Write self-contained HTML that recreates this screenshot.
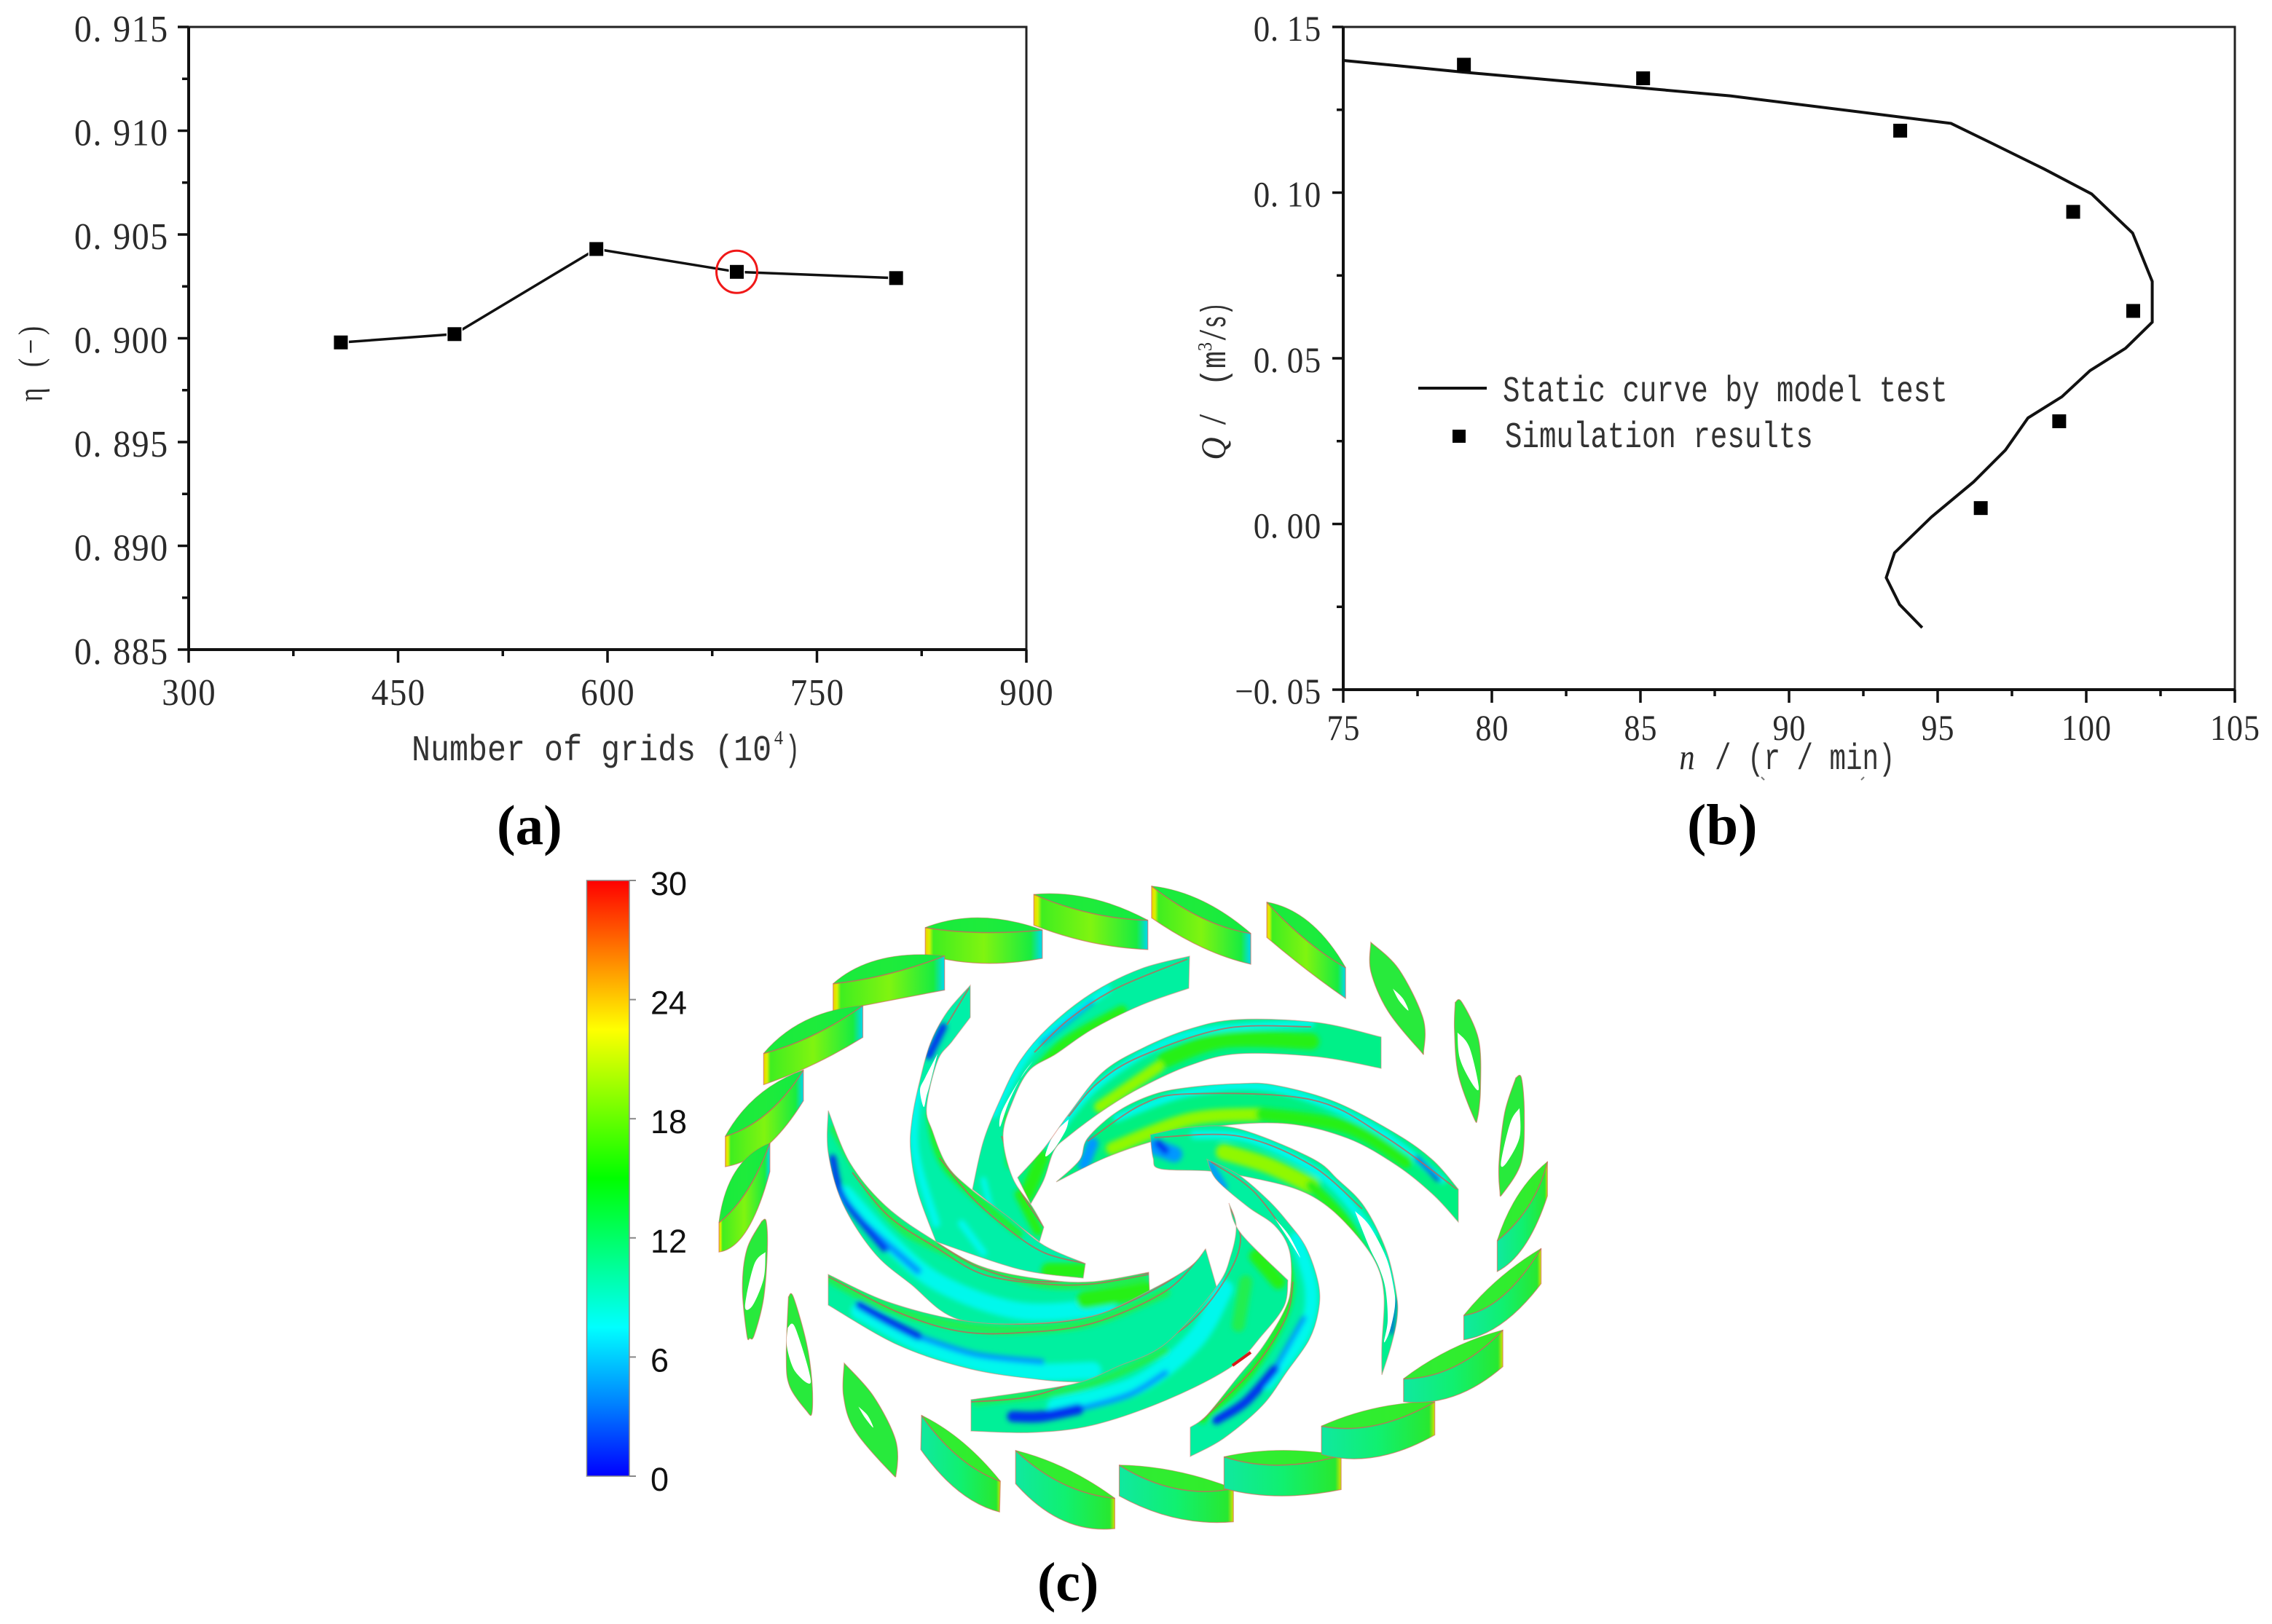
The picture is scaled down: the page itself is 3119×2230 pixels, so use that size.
<!DOCTYPE html>
<html>
<head>
<meta charset="utf-8">
<title>Grid independence, static curve and blade pressure</title>
<style>
html,body{margin:0;padding:0;background:#fff;}
svg{display:block;}
text{font-family:"Liberation Serif","Noto Serif CJK SC",serif;fill:#2a2a2a;}
.panel-label{font-weight:bold;fill:#000;}
.cb{font-family:"Liberation Sans",sans-serif;fill:#111;}
</style>
</head>
<body>
<svg id="figure" xmlns="http://www.w3.org/2000/svg" width="3119" height="2230" viewBox="0 0 3119 2230">
<defs>
<linearGradient id="cbGrad" x1="0" y1="1" x2="0" y2="0">
<stop offset="0" stop-color="#0000ff"/><stop offset="0.12" stop-color="#0080ff"/><stop offset="0.25" stop-color="#00ffff"/>
<stop offset="0.375" stop-color="#00ff80"/><stop offset="0.5" stop-color="#00ff00"/><stop offset="0.625" stop-color="#80ff00"/>
<stop offset="0.75" stop-color="#ffff00"/><stop offset="0.875" stop-color="#ff8000"/><stop offset="1" stop-color="#ff0000"/>
</linearGradient>
<linearGradient id="vaneL"><stop offset="0" stop-color="#f0d000"/><stop offset="0.035" stop-color="#d8f000"/><stop offset="0.07" stop-color="#40ee20"/><stop offset="0.5" stop-color="#80f410"/><stop offset="0.9" stop-color="#18ec40"/><stop offset="1" stop-color="#00d8f0"/></linearGradient>
<linearGradient id="vaneR"><stop offset="0" stop-color="#10e8a0"/><stop offset="0.5" stop-color="#10f070"/><stop offset="0.95" stop-color="#28e830"/><stop offset="1" stop-color="#d8e000"/></linearGradient>
<filter id="blur1" x="-40%" y="-40%" width="180%" height="180%"><feGaussianBlur stdDeviation="3.5"/></filter>
</defs>

<!-- Panel a frame -->
<g id="panelA">
<rect x="259" y="37" width="1150" height="855" fill="none" stroke="#222" stroke-width="3"/>
<line x1="259" y1="892" x2="1409" y2="892" stroke="#111" stroke-width="4"/>
<line x1="259" y1="37" x2="259" y2="892" stroke="#111" stroke-width="4"/>
<g id="titlesA"></g>
<g id="ticksA"></g>
<g id="marksA"></g>
</g>

<!-- Panel b frame -->
<g id="panelB">
<rect x="1844" y="37" width="1224" height="910" fill="none" stroke="#222" stroke-width="3"/>
<line x1="1844" y1="947" x2="3068" y2="947" stroke="#111" stroke-width="4"/>
<line x1="1844" y1="37" x2="1844" y2="947" stroke="#111" stroke-width="4"/>
<path d="M2418 1067l4 4M2555 1071l4-4" stroke="#777" stroke-width="2" fill="none"/>
<g id="titlesB"></g>
<g id="ticksB"></g>
<g id="marksB"></g>
<g id="legendB">
<line x1="1947" y1="533" x2="2041" y2="533" stroke="#111" stroke-width="4"/>
<rect x="1994" y="590" width="18" height="18" fill="#000"/>
</g>
</g>

<text class="panel-label" x="682" y="1159" font-size="77">(a)</text>
<text class="panel-label" x="2316" y="1159" font-size="79">(b)</text>
<text class="panel-label" x="1424" y="2198" font-size="76">(c)</text>

<!-- Panel c -->
<g>
<g>
<rect x="805.5" y="1209" width="58.5" height="818" fill="url(#cbGrad)" stroke="#888" stroke-width="1.5"/>
<g id="cbTicks"></g>
</g>
<g id="blades"></g>
<g id="vanes"></g>
</g>
</svg>

<script>
// ---------- Panel a data ----------
const gridCounts = [409, 490.4, 592, 692.6, 806.7];
const etaValues = [0.8998, 0.9002, 0.9043, 0.9032, 0.9029];
const gridTicks = [300, 450, 600, 750, 900];
const etaTicks = [0.885, 0.890, 0.895, 0.900, 0.905, 0.910, 0.915];
const highlightedGrid = 692.6;
const highlightedEta = 0.9032;

// ---------- Panel b data ----------
const curveSpeed = [75, 78.99, 88.02, 95.45, 96.8, 98.59, 100.18, 101.56, 102.22, 102.22, 101.32, 100.13, 99.18, 98.04, 97.28, 96.21, 94.79, 93.55, 93.27, 93.72, 94.48];
const curveFlow = [0.1399, 0.1364, 0.1292, 0.1209, 0.115, 0.1071, 0.0996, 0.0878, 0.0732, 0.0609, 0.053, 0.0463, 0.0384, 0.032, 0.0223, 0.0127, 0.0021, -0.0087, -0.0162, -0.0243, -0.0313];
const simSpeed = [79.06, 85.09, 93.74, 99.56, 101.58, 99.09, 96.45];
const simFlow = [0.1386, 0.1345, 0.1187, 0.0942, 0.0643, 0.031, 0.0048];
const speedTicks = [75, 80, 85, 90, 95, 100, 105];
const flowTicks = [-0.05, 0, 0.05, 0.10, 0.15];

// ---------- Colorbar data ----------
const colorbarTicks = [0, 6, 12, 18, 24, 30];

const NS = 'http://www.w3.org/2000/svg';
function mk(parent, tag, attrs) {
  const el = document.createElementNS(NS, tag);
  for (const k in attrs) el.setAttribute(k, attrs[k]);
  parent.appendChild(el);
  return el;
}

// Evenly pitched, horizontally condensed text (opts: size, sx, rot, italic, mono, narrow)
function monoText(g, x, y, str, adv, name, opts) {
  const o = opts || {};
  const size = o.size || 50;
  const sx = o.mono ? adv / (size * 0.6) : (o.sx || 0.76);
  const rot = o.rot ? ' rotate(-90)' : '';
  let cursor = 0;
  const xs = Array.from(str).map(c => {
    const w = (o.narrow && (c === '.' || c === ' ')) ? o.narrow : adv;
    const centre = cursor + w / 2;
    cursor += w;
    return (centre / sx).toFixed(1);
  }).join(' ');
  const el = mk(g, 'text', {
    transform: 'translate(' + x + ',' + y + ')' + rot + ' scale(' + sx.toFixed(3) + ',1)',
    x: xs, y: 0, 'font-size': size, 'text-anchor': 'middle', 'xml:space': 'preserve'
  });
  el.style.whiteSpace = 'pre';
  if (o.mono) {
    el.style.fontFamily = '"Liberation Mono", monospace';
    el.style.fill = '#333';
  }
  if (o.italic) el.setAttribute('font-style', 'italic');
  el.textContent = str;
  
  
  return el;
}
function textWidth(str, adv, narrow) {
  return Array.from(str).reduce((s, c) => s + ((c === '.' || c === ' ') ? narrow : adv), 0);
}

// axis functions
const axA = {x: v => 259 + (v - 300) / 600 * 1150, y: v => 892 - (v - 0.885) / 0.03 * 855};
const axB = {x: v => 1844 + (v - 75) / 30 * 1224, y: v => 947 - (v + 0.05) / 0.2 * 910};

function tickLine(g, x1, y1, x2, y2, name) {
  const el = mk(g, 'line', {x1, y1, x2, y2, stroke: '#111', 'stroke-width': 3.5});
  
  
}
function fmtSpaced(v, d) {
  const s = Math.abs(v).toFixed(d).replace('.', '. ');
  return (v < 0 ? '\u2212' : '') + s;
}

// Titles and legend text
const titlesA = document.getElementById('titlesA');
monoText(titlesA, 565, 1044, 'Number of grids (10', 26, 'x-axis-title-a', {mono: true});
monoText(titlesA, 1062, 1022, '4', 14, 'x-axis-title-a-exponent', {size: 27, sx: 0.9});
monoText(titlesA, 1078, 1044, ')', 20, 'x-axis-title-a-close', {mono: true});
monoText(titlesA, 58, 553, '\u03b7 (\u2212)', 22, 'y-axis-title-a', {rot: true, size: 48});

const titlesB = document.getElementById('titlesB');
monoText(titlesB, 2304, 1056, 'n', 24, 'x-axis-title-b-n', {italic: true, sx: 0.85});
monoText(titlesB, 2354, 1056, '/ (r / min)', 22.5, 'x-axis-title-b-unit', {mono: true});
monoText(titlesB, 1682, 629, 'Q', 26, 'y-axis-title-b-q', {rot: true, italic: true, size: 48, sx: 0.9});
monoText(titlesB, 1682, 585, '/', 18, 'y-axis-title-b-slash', {rot: true, size: 48, mono: true});
monoText(titlesB, 1682, 530, '(m', 24, 'y-axis-title-b-open', {rot: true, size: 48, mono: true});
monoText(titlesB, 1663, 483, '3', 14, 'y-axis-title-b-exponent', {rot: true, size: 27, sx: 0.9});
monoText(titlesB, 1682, 469, '/s)', 18, 'y-axis-title-b-close', {rot: true, size: 48, mono: true});

const legendB = document.getElementById('legendB');
monoText(legendB, 2063, 551, 'Static curve by model test', 23.5, 'legend-label-static-curve', {mono: true});
monoText(legendB, 2066, 614, 'Simulation results', 23.5, 'legend-label-simulation', {mono: true});

// Panel a ticks
const ticksA = document.getElementById('ticksA');
gridTicks.forEach((v, i) => {
  const x = axA.x(v);
  tickLine(ticksA, x, 892, x, 910, 'x-tick-a');
  monoText(ticksA, x - 37.5, 968, String(v), 25, 'x-tick-label-a', {sx: 0.9, size: 52});
  if (i < gridTicks.length - 1) {
    const xm = axA.x((v + gridTicks[i + 1]) / 2);
    tickLine(ticksA, xm, 892, xm, 901, 'x-minor-tick-a');
  }
});
etaTicks.forEach((v, i) => {
  const y = axA.y(v);
  tickLine(ticksA, 244, y, 259, y, 'y-tick-a');
  const s = fmtSpaced(v, 3);
  monoText(ticksA, 231 - textWidth(s, 25.5, 14), y + 20, s, 25.5, 'y-tick-label-a', {sx: 0.92, size: 52, narrow: 14});
  if (i < etaTicks.length - 1) {
    const ym = axA.y((v + etaTicks[i + 1]) / 2);
    tickLine(ticksA, 250, ym, 259, ym, 'y-minor-tick-a');
  }
});

// Panel a series
const marksA = document.getElementById('marksA');
const lineA = mk(marksA, 'polyline', {
  points: gridCounts.map((v, i) => axA.x(v) + ',' + axA.y(etaValues[i])).join(' '),
  fill: 'none', stroke: '#111', 'stroke-width': 3.5
});


gridCounts.forEach((v, i) => {
  const m = mk(marksA, 'rect', {
    x: axA.x(v) - 9.5, y: axA.y(etaValues[i]) - 9.5, width: 19, height: 19,
    fill: '#000', stroke: '#fff', 'stroke-width': 3, 'paint-order': 'stroke'
  });
  
  
});
const ring = mk(marksA, 'ellipse', {
  cx: axA.x(highlightedGrid), cy: axA.y(highlightedEta), rx: 28, ry: 29,
  fill: 'none', stroke: '#f01818', 'stroke-width': 3
});



// Panel b ticks
const ticksB = document.getElementById('ticksB');
speedTicks.forEach((v, i) => {
  const x = axB.x(v);
  tickLine(ticksB, x, 947, x, 965, 'x-tick-b');
  const s = String(v);
  monoText(ticksB, x - s.length * 11.5, 1016, s, 23, 'x-tick-label-b', {sx: 0.88, size: 50});
  if (i < speedTicks.length - 1) {
    const xm = axB.x((v + speedTicks[i + 1]) / 2);
    tickLine(ticksB, xm, 947, xm, 956, 'x-minor-tick-b');
  }
});
flowTicks.forEach((v, i) => {
  const y = axB.y(v);
  tickLine(ticksB, 1829, y, 1844, y, 'y-tick-b');
  const s = fmtSpaced(v, 2);
  monoText(ticksB, 1814 - textWidth(s, 24, 11), y + 19, s, 24, 'y-tick-label-b', {sx: 0.9, size: 50, narrow: 11});
  if (i < flowTicks.length - 1) {
    const ym = axB.y((v + flowTicks[i + 1]) / 2);
    tickLine(ticksB, 1835, ym, 1844, ym, 'y-minor-tick-b');
  }
});

// Panel b series
const marksB = document.getElementById('marksB');
const curveB = mk(marksB, 'polyline', {
  points: curveSpeed.map((v, i) => axB.x(v) + ',' + axB.y(curveFlow[i])).join(' '),
  fill: 'none', stroke: '#111', 'stroke-width': 4
});


simSpeed.forEach((v, i) => {
  const m = mk(marksB, 'rect', {x: axB.x(v) - 9.5, y: axB.y(simFlow[i]) - 9.5, width: 19, height: 19, fill: '#000'});
  
  
});

// Colorbar ticks
const cbg = document.getElementById('cbTicks');
colorbarTicks.forEach(v => {
  const y = 2027 - v / 30 * 818;
  const t = mk(cbg, 'line', {x1: 864, y1: y, x2: 873, y2: y, stroke: '#888', 'stroke-width': 2});
  
  
  const l = mk(cbg, 'text', {x: 893, y: y + 20, 'font-size': 45, class: 'cb'});
  l.textContent = String(v);
  
  
});

// ---------- Panel c picture (traced shapes in page pixels) ----------
const P = p => p[0].toFixed(1) + ' ' + p[1].toFixed(1);
const T = p => [760 + p[0] * 0.5102, 1180 + p[1] * 0.6698];
function smooth(pts) {
  let d = '';
  for (let i = 0; i < pts.length - 1; i++) {
    const p0 = pts[i - 1] || pts[i], p1 = pts[i], p2 = pts[i + 1], p3 = pts[i + 2] || p2;
    const c1 = [p1[0] + (p2[0] - p0[0]) / 6, p1[1] + (p2[1] - p0[1]) / 6];
    const c2 = [p2[0] - (p3[0] - p1[0]) / 6, p2[1] - (p3[1] - p1[1]) / 6];
    d += ' C' + P(c1) + ' ' + P(c2) + ' ' + P(p2);
  }
  return d;
}
const openPath = pts => 'M' + P(pts[0]) + smooth(pts);
const outlinePath = segs => 'M' + P(segs[0][0]) + segs.map(s => smooth(s)).join(' L' + 'X').replace(/ LX/g, '') + ' Z';

const CY = '#00f8ec', BL = '#0030f0', LB = '#0098ff', GR = '#28f018', YG = '#90f800', SG = '#20ee50';
const bladeShapes = [
 {n:'blade-g', base:'#00f088',
  segs:[[[1896,1424],[1808,1404],[1700,1400],[1633,1413],[1567,1440],[1513,1473],[1467,1530],[1433,1577],[1397,1617]],[[1397,1617],[1415,1653]],[[1415,1653],[1433,1620],[1447,1580],[1467,1560],[1517,1523],[1567,1493],[1633,1463],[1700,1447],[1808,1451],[1896,1467]],[[1896,1467],[1896,1424]]],
  bands:[[CY,10,[[1800,1405],[1633,1420],[1513,1485],[1440,1570]]],[GR,22,[[1800,1430],[1680,1428],[1600,1455]]],[YG,16,[[1590,1465],[1510,1520]]],[GR,20,[[1410,1640],[1430,1590]]]],
  lines:[[[1800,1410],[1683,1412],[1567,1450],[1507,1487],[1467,1533]]],
  holes:[[[1467,1537],[1447,1557],[1435,1587],[1447,1578],[1463,1552]]]},
 {n:'blade-h', base:'#00f0a0',
  segs:[[[1633,1313],[1567,1330],[1500,1363],[1440,1410],[1400,1457],[1373,1510],[1350,1567],[1335,1633]],[[1335,1633],[1427,1705]],[[1427,1705],[1433,1685]],[[1433,1685],[1417,1657],[1390,1617],[1377,1560],[1390,1513],[1413,1470],[1450,1447],[1500,1413],[1567,1380],[1632,1357]],[[1632,1357],[1633,1313]]],
  bands:[[CY,11,[[1520,1358],[1420,1436],[1365,1530]]],[LB,5,[[1500,1376],[1430,1432]]],[GR,15,[[1540,1388],[1460,1434],[1410,1490]]],[GR,14,[[1400,1640],[1425,1690]]],[CY,8,[[1350,1620],[1365,1680]]],[GR,6,[[1382,1530],[1385,1600]]]],
  lines:[[[1630,1317],[1533,1357],[1467,1400],[1420,1445]],[[1375,1560],[1400,1633],[1433,1685]]],
  holes:[[[1418,1457],[1397,1487],[1375,1527],[1373,1547],[1385,1513],[1403,1477]]]},
 {n:'blade-i', base:'#00f0a8',
  segs:[[[1332,1353],[1300,1390],[1277,1433],[1262,1487],[1252,1537],[1250,1580],[1260,1637],[1285,1705]],[[1285,1705],[1400,1743],[1487,1755]],[[1487,1755],[1490,1735]],[[1490,1735],[1433,1710],[1383,1670],[1333,1633],[1300,1600],[1280,1553],[1272,1520],[1287,1457],[1307,1430],[1332,1397]],[[1332,1397],[1332,1353]]],
  bands:[[CY,11,[[1260,1500],[1256,1580],[1285,1680]]],[BL,10,[[1295,1410],[1275,1450]]],[GR,8,[[1276,1530],[1300,1605],[1400,1695]]],[CY,10,[[1320,1680],[1350,1720]]],[GR,22,[[1440,1745],[1485,1745]]]],
  lines:[[[1330,1357],[1300,1407]],[[1290,1590],[1333,1643],[1383,1687],[1433,1720],[1490,1735]]],
  holes:[[[1287,1447],[1270,1480],[1263,1497],[1268,1520],[1272,1505],[1277,1487]]]},
 {n:'blade-a', base:'#00f0a0',
  segs:[[[1137,1525],[1167,1597],[1217,1657],[1285,1705],[1350,1740],[1433,1757],[1500,1760],[1577,1747]],[[1577,1747],[1578,1772]],[[1578,1772],[1517,1807],[1433,1817],[1317,1812],[1250,1763],[1200,1720],[1157,1653],[1137,1583],[1137,1525]]],
  bands:[[CY,24,[[1160,1640],[1220,1705],[1290,1762],[1400,1800],[1520,1795]]],[LB,10,[[1185,1680],[1260,1745]]],[BL,9,[[1143,1590],[1155,1640],[1185,1680],[1215,1715]]],[SG,12,[[1145,1550],[1217,1665],[1285,1712],[1433,1763],[1570,1755]]],[GR,24,[[1490,1785],[1575,1772]]]],
  lines:[[[1287,1707],[1350,1743],[1433,1760],[1577,1748]],[[1170,1610],[1220,1670],[1285,1713],[1350,1750],[1433,1763],[1500,1763],[1577,1750]]],
  holes:[]},
 {n:'blade-b', base:'#00f0a0',
  segs:[[[1137,1750],[1217,1787],[1313,1812],[1400,1818],[1500,1807],[1578,1772],[1633,1740],[1655,1715]],[[1655,1715],[1670,1767]],[[1670,1767],[1600,1870],[1490,1898]],[[1490,1898],[1433,1895],[1333,1880],[1233,1847],[1137,1792]],[[1137,1792],[1137,1750]]],
  bands:[[CY,24,[[1180,1800],[1280,1852],[1400,1882],[1500,1882]]],[LB,8,[[1260,1835],[1340,1860],[1430,1870]]],[BL,11,[[1180,1792],[1215,1812],[1260,1835]]],[SG,12,[[1137,1755],[1217,1795],[1313,1820],[1400,1826],[1500,1815],[1600,1775]]]],
  lines:[[[1137,1753],[1233,1802],[1317,1828],[1400,1830],[1500,1817],[1600,1773],[1650,1722]],[[1313,1812],[1400,1818],[1500,1807],[1600,1762],[1655,1715]]],
  holes:[]},
 {n:'blade-c', base:'#00f098',
  segs:[[[1333,1922],[1417,1910],[1483,1898],[1533,1877],[1600,1845],[1670,1767],[1690,1723],[1697,1683],[1687,1652]],[[1687,1652],[1703,1693],[1768,1758]],[[1768,1758],[1763,1793],[1733,1833],[1690,1877],[1600,1923],[1500,1957],[1417,1967],[1333,1965]],[[1333,1965],[1333,1922]]],
  bands:[[CY,26,[[1450,1932],[1560,1902],[1640,1840],[1680,1770]]],[LB,8,[[1480,1935],[1550,1915],[1600,1885]]],[BL,15,[[1390,1945],[1430,1945],[1480,1935]]],[SG,10,[[1340,1925],[1483,1905],[1600,1855]]],[GR,20,[[1725,1725],[1755,1760]]],[SG,18,[[1710,1760],[1700,1820]]]],
  lines:[[[1333,1925],[1417,1917],[1500,1887],[1600,1840],[1650,1800],[1690,1743],[1703,1700],[1690,1660]]],
  holes:[]},
 {n:'blade-f', base:'#00f080',
  segs:[[[1450,1623],[1482,1593],[1493,1563],[1533,1527],[1583,1503],[1633,1493],[1700,1488],[1750,1490],[1833,1513],[1917,1557],[1967,1593],[2002,1633]],[[2002,1633],[2002,1678]],[[2002,1678],[1967,1640],[1917,1600],[1850,1563],[1767,1543],[1667,1547],[1583,1567],[1517,1590],[1450,1623]]],
  bands:[[CY,11,[[1533,1535],[1633,1500],[1750,1495],[1880,1545],[1980,1620]]],[YG,18,[[1527,1577],[1633,1537],[1733,1530]]],[GR,18,[[1733,1530],[1850,1548],[1930,1595]]],[BL,6,[[1945,1590],[1975,1620]]],[LB,16,[[1488,1600],[1500,1570]]]],
  lines:[[[1493,1567],[1567,1517],[1633,1502],[1800,1510],[1900,1560],[2000,1633]]],
  holes:[]},
 {n:'blade-e', base:'#00f090',
  segs:[[[1579,1558],[1633,1548],[1700,1550],[1800,1590],[1837,1620],[1873,1657],[1903,1717],[1917,1777],[1918,1810],[1910,1847],[1897,1888]],[[1897,1888],[1897,1847],[1900,1780],[1890,1737],[1863,1697],[1823,1657],[1780,1633],[1717,1617],[1660,1608],[1593,1605],[1583,1590],[1579,1558]]],
  bands:[[CY,12,[[1640,1558],[1720,1565],[1820,1618],[1885,1695]]],[YG,22,[[1680,1582],[1740,1600],[1800,1628]]],[GR,14,[[1800,1628],[1850,1682],[1885,1760]]],[LB,22,[[1585,1575],[1612,1585]]],[BL,10,[[1590,1570],[1600,1580]]],[BL,5,[[1914,1785],[1910,1830]]],[CY,5,[[1900,1720],[1912,1770]]]],
  lines:[[[1585,1562],[1700,1560],[1800,1600],[1870,1660]]],
  holes:[[[1860,1663],[1880,1683],[1903,1727],[1913,1767],[1915,1793],[1908,1827],[1900,1843],[1905,1813],[1902,1770],[1893,1740],[1880,1713]]]},
 {n:'blade-d', base:'#00f0a0',
  segs:[[[1634,1960],[1657,1943],[1700,1890],[1733,1850],[1763,1800],[1772,1767],[1770,1717],[1750,1683],[1713,1657],[1670,1620],[1657,1592]],[[1657,1592],[1700,1613],[1740,1647],[1767,1677],[1793,1713],[1810,1763],[1810,1800],[1797,1840],[1767,1883],[1733,1930],[1680,1975],[1634,2000]],[[1634,2000],[1634,1960]]],
  bands:[[CY,18,[[1780,1700],[1800,1770],[1790,1830],[1740,1900]]],[LB,7,[[1750,1880],[1790,1810]]],[BL,12,[[1670,1950],[1710,1925],[1750,1880]]],[GR,10,[[1650,1950],[1720,1880],[1768,1790],[1762,1720],[1720,1670]]],[LB,10,[[1662,1600],[1680,1630]]]],
  lines:[[[1662,1595],[1720,1635],[1770,1700]],[[1775,1760],[1765,1810],[1720,1880],[1650,1950]]],
  holes:[[[1750,1673],[1770,1697],[1785,1727],[1768,1700]]]}
];

const bladeG = document.getElementById('blades');
bladeShapes.forEach((b, idx) => {
  let d = 'M' + P(b.segs[0][0]);
  b.segs.forEach(s => { d += ' L' + P(s[0]) + smooth(s); });
  d += ' Z';
  const cid = 'bladeClip' + idx;
  const defs = mk(bladeG, 'clipPath', {id: cid});
  mk(defs, 'path', {d});
  const g = mk(bladeG, 'g', {});
  
  
  mk(g, 'path', {d, fill: b.base});
  const inner = mk(g, 'g', {'clip-path': 'url(#' + cid + ')'});
  const blurred = mk(inner, 'g', {filter: 'url(#blur1)'});
  b.bands.forEach(s => {
    mk(blurred, 'path', {d: openPath(s[2]), fill: 'none', stroke: s[0], 'stroke-width': s[1], 'stroke-linecap': 'round'});
  });
  b.lines.forEach(l => {
    mk(inner, 'path', {d: openPath(l), fill: 'none', stroke: '#b8685a', 'stroke-width': 1.8, 'stroke-opacity': 0.85});
  });
  b.holes.forEach(h => {
    mk(g, 'path', {d: openPath(h.concat([h[0]])) + ' Z', fill: '#fff'});
  });
  mk(g, 'path', {d, fill: 'none', stroke: '#d89080', 'stroke-width': 1.2, 'stroke-opacity': 0.6});
});
const redMark = mk(bladeG, 'path', {d: 'M1692 1875 L1717 1857', stroke: '#d81818', 'stroke-width': 4, fill: 'none'});



// Lens guide vanes: A, B, top-mid, inner-mid, bottom-mid, bottom of A, bottom of B, gradient
const lensVanes = [
 [[1000,140],[1315,145],[1150,120],[1150,150],[1150,213],[1000,195],[1315,203],'vaneL'],
 [[752,255],[1052,198],[880,205],[900,235],[900,290],[752,312],[1052,268],'vaneL'],
 [[565,398],[832,300],[680,330],[700,360],[700,420],[565,462],[832,365],'vaneL'],
 [[462,568],[672,432],[550,485],[575,520],[570,590],[462,630],[672,495],'vaneL'],
 [[445,745],[582,582],[490,640],[520,680],[520,760],[445,805],[582,640],'vaneL'],
 [[990,1140],[1202,1275],[1100,1195],[1090,1225],[1090,1295],[988,1210],[1200,1338],'vaneR'],
 [[1243,1212],[1510,1310],[1380,1250],[1370,1280],[1370,1355],[1243,1280],[1510,1372],'vaneR'],
 [[1522,1242],[1829,1290],[1674,1255],[1674,1290],[1674,1350],[1522,1305],[1829,1358],'vaneR'],
 [[1804,1225],[2119,1222],[1954,1212],[1954,1242],[1954,1305],[1804,1290],[2119,1292],'vaneR'],
 [[2066,1162],[2371,1112],[2214,1125],[2214,1160],[2214,1225],[2066,1220],[2371,1180],'vaneR'],
 [[2287,1065],[2554,965],[2414,1005],[2424,1040],[2424,1100],[2287,1112],[2554,1040],'vaneR'],
 [[2449,935],[2657,798],[2544,860],[2554,895],[2554,950],[2449,985],[2657,870],'vaneR'],
 [[2539,782],[2674,620],[2594,690],[2624,710],[2614,790],[2539,845],[2674,690],'vaneR'],
 [[1919,88],[2131,222],[2034,130],[2024,165],[2024,225],[1919,160],[2131,285],'vaneL'],
 [[1609,55],[1876,152],[1744,85],[1744,120],[1744,180],[1609,120],[1876,215],'vaneL'],
 [[1292,72],[1599,125],[1444,80],[1444,110],[1444,170],[1292,135],[1599,185],'vaneL']
];
// Outline guide vanes: outline points and optional white opening
const outlineVanes = [
 {o:[[560,742],[572,742],[575,800],[565,900],[540,975],[528,982],[520,975],[508,880],[520,800],[560,742]], h:[[570,805],[540,830],[515,915],[535,915],[565,860]]},
 {o:[[632,897],[645,897],[680,990],[695,1070],[695,1135],[680,1130],[635,1080],[626,1020],[632,897]], h:[[630,960],[650,960],[692,1070],[650,1050],[628,1000]]},
 {o:[[782,1033],[860,1100],[920,1190],[922,1258],[905,1255],[810,1170],[780,1100],[782,1033]], h:[[820,1122],[845,1140],[860,1165],[838,1145]]},
 {o:[[2589,448],[2604,448],[2612,520],[2604,620],[2554,685],[2546,680],[2544,620],[2559,520],[2589,448]], h:[[2599,510],[2574,540],[2549,622],[2564,622],[2599,570]]},
 {o:[[2426,293],[2444,293],[2489,370],[2494,470],[2486,530],[2476,530],[2434,440],[2424,350],[2426,293]], h:[[2432,355],[2464,385],[2489,465],[2476,465],[2439,410]]},
 {o:[[2199,170],[2274,225],[2339,325],[2341,392],[2329,390],[2244,310],[2199,230],[2199,170]], h:[[2258,265],[2285,285],[2300,310],[2275,290]]}
];

const vaneG = document.getElementById('vanes');
function quadThrough(a, m, b) {
  const c = [2 * m[0] - (a[0] + b[0]) / 2, 2 * m[1] - (a[1] + b[1]) / 2];
  return 'Q' + P(c) + ' ' + P(b);
}
lensVanes.forEach(v => {
  const A = T(v[0]), B = T(v[1]), Tm = T(v[2]), M = T(v[3]), C = T(v[4]), Ab = T(v[5]), Bb = T(v[6]), grad = v[7];
  const g = mk(vaneG, 'g', {});
  
  
  const side = 'M' + P(A) + ' ' + quadThrough(A, Tm, B) + ' L' + P(Bb) + ' ' + quadThrough(Bb, C, Ab) + ' Z';
  mk(g, 'path', {d: side, fill: 'url(#' + grad + ')', stroke: '#d0705c', 'stroke-width': 1.2, 'stroke-opacity': 0.7});
  const faceTop = 'M' + P(A) + ' ' + quadThrough(A, Tm, B) + ' ' + quadThrough(B, M, A) + ' Z';
  mk(g, 'path', {d: faceTop, fill: grad === 'vaneL' ? '#14ea40' : '#34ec28', 'fill-opacity': 0.9});
  mk(g, 'path', {d: 'M' + P(A) + ' ' + quadThrough(A, M, B), fill: 'none', stroke: '#c8685e', 'stroke-width': 1.6, 'stroke-opacity': 0.8});
});
outlineVanes.forEach(v => {
  const g = mk(vaneG, 'g', {});
  
  
  mk(g, 'path', {d: openPath(v.o.map(T)) + ' Z', fill: '#28ea3c', stroke: '#d0705c', 'stroke-width': 1.2, 'stroke-opacity': 0.7});
  mk(g, 'path', {d: openPath(v.h.concat([v.h[0]]).map(T)) + ' Z', fill: '#fff'});
});
</script>
</body>
</html>
